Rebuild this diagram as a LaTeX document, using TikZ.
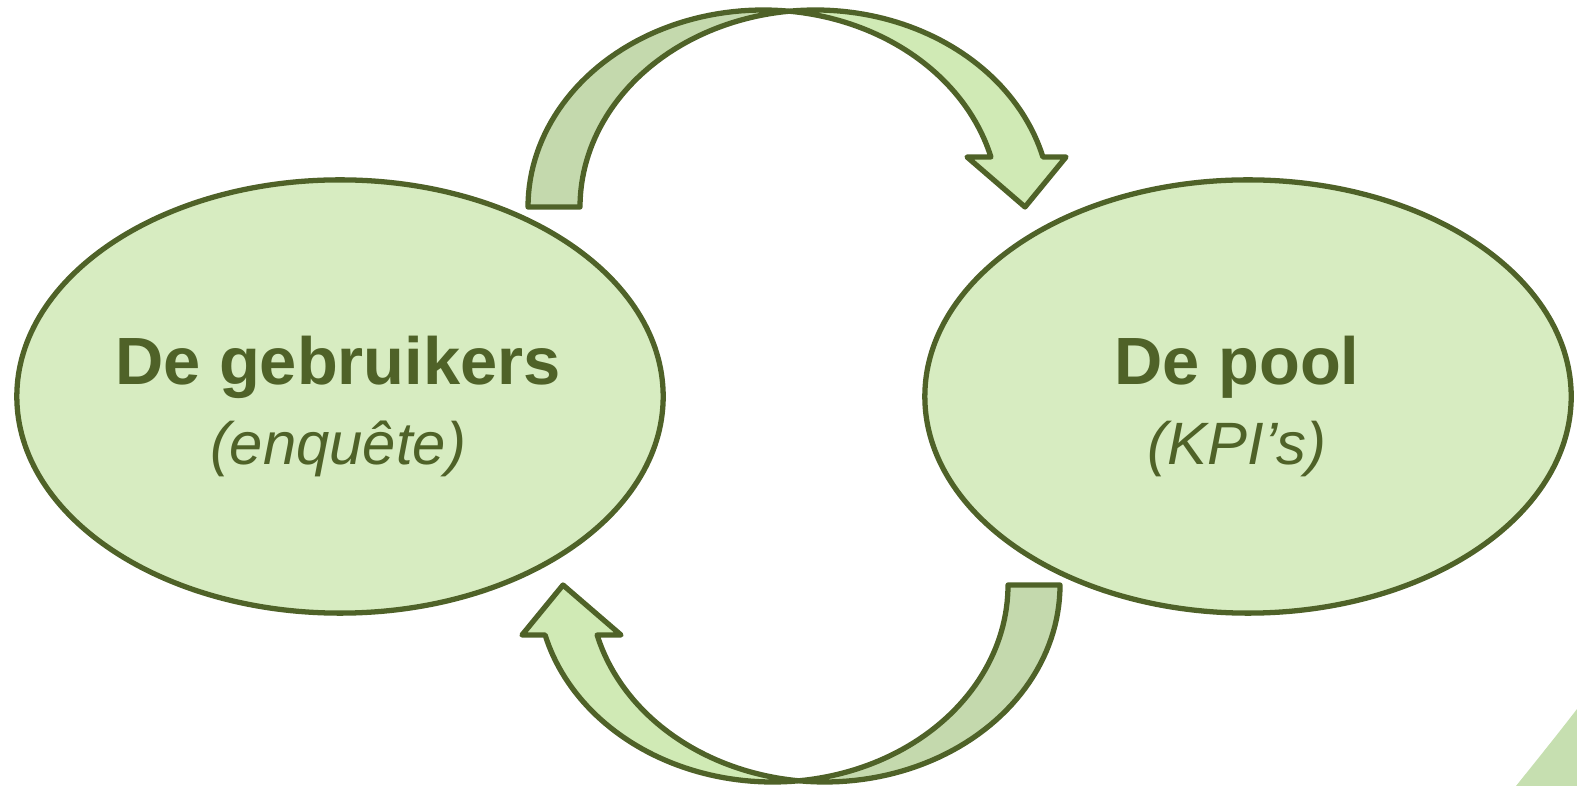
\documentclass[tikz,border=0pt]{standalone}
\usepackage{fontspec}
\setmainfont{Liberation Sans}
\usetikzlibrary{shapes.geometric}
\definecolor{olive}{HTML}{4F6228}
\definecolor{ellfill}{HTML}{D7ECC1}
\definecolor{arrlight}{HTML}{D0EAB5}
\definecolor{arrdark}{HTML}{C4D9AD}
\definecolor{cornerfill}{HTML}{C6DFB0}
\tikzset{
  bubble/.style={ellipse, draw=olive, fill=ellfill, line width=1.5pt, minimum width=6.46cm, minimum height=4.33cm, inner sep=0pt},
  titletext/.style={anchor=base, text=olive, font=\fontsize{19}{23}\selectfont\bfseries},
  subtext/.style={anchor=base, text=olive, font=\fontsize{17}{20}\selectfont\itshape},
  backband/.style={fill=arrdark, draw=olive, line width=1.5pt, line join=round},
  frontband/.style={fill=arrlight, draw=olive, line width=1.5pt, line join=round}
}
\newcommand{\bentarrow}{%
  \filldraw[backband] plot[domain=180:83.66, samples=50] ({763.3+235.3*cos(\x)},{207-197*sin(\x)})
    -- plot[domain=96.34:180, samples=50] ({815.3+235.3*cos(\x)},{207-197*sin(\x)}) -- cycle;
  \filldraw[frontband] plot[domain=96.34:14.70, samples=50] ({815.3+235.3*cos(\x)},{207-197*sin(\x)})
    -- (1066,157) -- (1025,207) -- (967,157)
    -- plot[domain=14.70:83.66, samples=50] ({763.3+235.3*cos(\x)},{207-197*sin(\x)}) -- cycle;
}
\begin{document}
\begin{tikzpicture}[x=0.01cm,y=-0.01cm]
\useasboundingbox (0,0) rectangle (1577,786);
% corner shape
\fill[cornerfill] (1516,786) .. controls (1536,761) and (1557,735) .. (1577,709) -- (1577,786) -- cycle;
% ellipses
\node[bubble] (users) at (340,396.5) {};
\node[bubble] (pool) at (1248,396.5) {};
% texts
\node[titletext] (userstitle) at (338,385) {De gebruikers};
\node[subtext] (userssub) at (338,465) {(enquête)};
\node[titletext] (pooltitle) at (1237,385) {De pool};
\node[subtext] (poolsub) at (1237,465) {(KPI’s)};
% arrows
\begin{scope}
\bentarrow
\end{scope}
\begin{scope}[rotate around={180:(794,396)}]
\bentarrow
\end{scope}
\end{tikzpicture}
\end{document}
